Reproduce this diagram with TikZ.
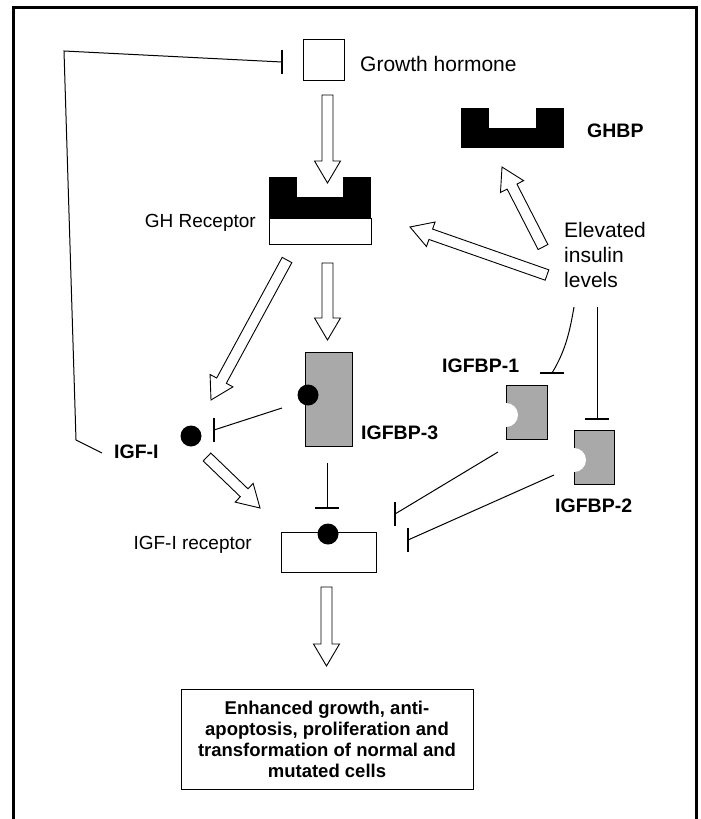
\documentclass[tikz,border=0pt]{standalone}
\usepackage{fontspec}
\setmainfont{Liberation Sans}
\usetikzlibrary{calc}

\definecolor{bpgray}{HTML}{A9A9A9}

% hollow block arrow from #1 (tail) to #2 (tip)
\newcommand{\hollowarrow}[2]{%
  \coordinate (ha-h) at ($(#2)!22pt!(#1)$);
  \draw[hollow] ($(#1)!5.5pt!90:(#2)$) -- ($(ha-h)!5.5pt!90:(#2)$)
    -- ($(ha-h)!13pt!90:(#2)$) -- (#2) -- ($(ha-h)!13pt!-90:(#2)$)
    -- ($(ha-h)!5.5pt!-90:(#2)$) -- ($(#1)!5.5pt!-90:(#2)$) -- cycle;
}

\begin{document}
\begin{tikzpicture}[x=1pt, y=-1pt,
    hollow/.style={draw, fill=white, line width=0.9pt, line join=miter},
    inhib/.style={line width=1pt},
    txt/.style={inner sep=0pt, font=\fontsize{21}{25}\selectfont},
    smalltxt/.style={inner sep=0pt, font=\fontsize{19}{22}\selectfont},
    boldtxt/.style={inner sep=0pt, font=\fontsize{19.5}{22}\selectfont\bfseries},
    namebox/.style={draw, line width=1pt, inner sep=0pt, outer sep=0pt},
    blackbox/.style={fill=black, inner sep=0pt, outer sep=0pt},
    ligand/.style={circle, fill=black, inner sep=0pt, minimum size=21pt},
    vbar/.pic={\draw[line width=1.2pt] (0,-12) -- (0,12);},
    hbar/.pic={\draw[line width=1.2pt] (-12,0) -- (12,0);}]

    \useasboundingbox (0,0) rectangle (701,819);

    % Frame
    \draw[line width=3pt] (13,830) -- (13,7) -- (696,7) -- (696,830);

    % Growth hormone
    \node[namebox, minimum width=41, minimum height=41] (gh) at (323.5,59.5) {};
    \node[txt, anchor=base west] (ghlab) at (360,71) {Growth hormone};

    % GH receptor
    \node[blackbox, minimum width=102, minimum height=41] (ghrtop) at (320,197.5) {};
    \fill[white] (297,176) rectangle (343,197);
    \node[namebox, fill=white, minimum width=102, minimum height=26, anchor=north] (ghr) at (ghrtop.south) {};
    \node[smalltxt, anchor=base east] (ghrlab) at (256,227) {GH Receptor};

    % GHBP
    \node[blackbox, minimum width=103, minimum height=40] (ghbp) at (512.5,128) {};
    \fill[white] (489,107) rectangle (536,128);
    \node[boldtxt, anchor=base west] (ghbplab) at (587,137) {GHBP};

    % Insulin
    \node[txt, anchor=north west, align=left] (ins) at (564,222.5) {Elevated\\insulin\\levels};

    % IGFBP-3 with bound IGF-I
    \node[namebox, fill=bpgray, minimum width=47, minimum height=94] (bp3) at (328.5,399) {};
    \node[ligand] (bp3igf) at (308,395) {};
    \node[boldtxt, anchor=base west] (bp3lab) at (361,439) {IGFBP-3};

    % Free IGF-I
    \node[ligand] (igf) at (191,436) {};
    \node[boldtxt, anchor=base west] (igflab) at (114,458) {IGF-I};

    % IGF-I receptor
    \node[namebox, minimum width=95, minimum height=40] (igfr) at (328.5,552) {};
    \node[ligand] (igfrigf) at (328,534) {};
    \node[smalltxt, anchor=base east] (igfrlab) at (252,549) {IGF-I receptor};

    % IGFBP-1
    \node[namebox, fill=bpgray, minimum width=41, minimum height=54] (bp1) at (526.5,412) {};
    \fill[white] ($(bp1.west)+(0,3)$) circle (12pt);
    \node[boldtxt, anchor=base west] (bp1lab) at (442,372) {IGFBP-1};

    % IGFBP-2
    \node[namebox, fill=bpgray, minimum width=40, minimum height=54] (bp2) at (594,457) {};
    \fill[white] ($(bp2.west)+(0,3)$) circle (12pt);
    \node[boldtxt, anchor=base west] (bp2lab) at (555,512) {IGFBP-2};

    % Outcome
    \node[namebox, minimum width=292, minimum height=100, align=center,
          font=\fontsize{18.5}{21}\selectfont\bfseries] (out) at (327,739)
          {Enhanced growth, anti-\\apoptosis, proliferation and\\transformation of normal and\\mutated cells};

    % Arrow ends
    \coordinate (gh-out) at (327.5,95);   \coordinate (ghr-in) at (327.5,183);
    \coordinate (ins-a) at (543,247);     \coordinate (ghbp-in) at (502,167);
    \coordinate (ins-b) at (547,275);     \coordinate (ghr-side) at (410,227);
    \coordinate (ghr-a) at (287,260);     \coordinate (igf-in) at (211,400);
    \coordinate (ghr-b) at (327.5,263);   \coordinate (bp3-in) at (327.5,340);
    \coordinate (igf-out) at (207,457);   \coordinate (igfr-in) at (260,508);
    \coordinate (igfr-out) at (326.5,587);\coordinate (out-in) at (326.5,666);

    % Stimulating arrows
    \hollowarrow{gh-out}{ghr-in}
    \hollowarrow{ins-a}{ghbp-in}
    \hollowarrow{ins-b}{ghr-side}
    \hollowarrow{ghr-a}{igf-in}
    \hollowarrow{ghr-b}{bp3-in}
    \hollowarrow{igf-out}{igfr-in}
    \hollowarrow{igfr-out}{out-in}

    % Inhibiting lines
    \coordinate (fb-start) at (102,453);  \coordinate (fb-end) at (282,62);
    \draw[inhib] (fb-start) -- (76,440) -- (64,51) -- (fb-end);
    \pic at (fb-end) {vbar};

    \coordinate (bp3-a) at (282,408);     \coordinate (igf-bar) at (214,430);
    \draw[inhib] (bp3-a) -- (igf-bar);
    \pic at (igf-bar) {vbar};

    \coordinate (bp3-b) at (327,463);     \coordinate (igfr-top) at (327,508);
    \draw[inhib] (bp3-b) -- (igfr-top);
    \pic at (igfr-top) {hbar};

    \coordinate (ins-c) at (574,307);     \coordinate (bp1-top) at (552,373);
    \draw[inhib] (ins-c) .. controls (570,330) and (566,350) .. (bp1-top);
    \pic at (bp1-top) {hbar};

    \coordinate (ins-d) at (597,307);     \coordinate (bp2-top) at (597,419);
    \draw[inhib] (ins-d) -- (bp2-top);
    \pic at (bp2-top) {hbar};

    \coordinate (bp1-out) at (498,452);   \coordinate (igfr-bar1) at (395,514);
    \draw[inhib] (bp1-out) -- (igfr-bar1);
    \pic at (igfr-bar1) {vbar};

    \coordinate (bp2-out) at (554,475);   \coordinate (igfr-bar2) at (408,540);
    \draw[inhib] (bp2-out) -- (igfr-bar2);
    \pic at (igfr-bar2) {vbar};

\end{tikzpicture}
\end{document}
